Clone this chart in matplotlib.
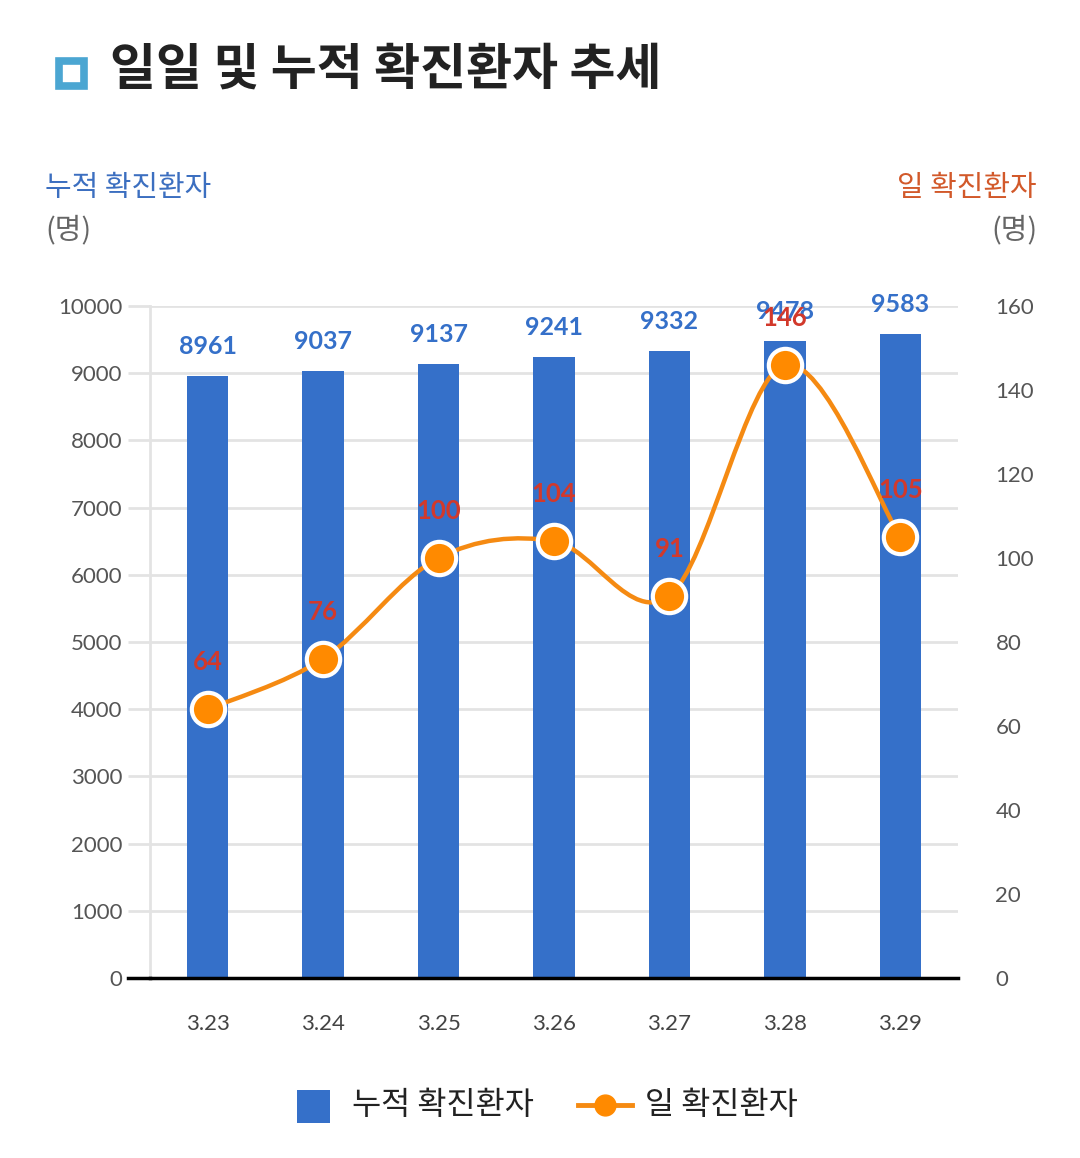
import matplotlib
matplotlib.use("Agg")
import matplotlib.pyplot as plt
from matplotlib.path import Path
from matplotlib.patches import PathPatch, Rectangle
from matplotlib.lines import Line2D
import numpy as np

dates = ["3.23", "3.24", "3.25", "3.26", "3.27", "3.28", "3.29"]
cumulative = [8961, 9037, 9137, 9241, 9332, 9478, 9583]
daily = [64, 76, 100, 104, 91, 146, 105]
left_ticks = [0, 1000, 2000, 3000, 4000, 5000, 6000, 7000, 8000, 9000, 10000]
right_ticks = [0, 20, 40, 60, 80, 100, 120, 140, 160]

KR = ["Noto Sans CJK KR", "DejaVu Sans"]
NUM = ["Lato", "DejaVu Sans"]
BLUE = "#3570C9"
ORANGE = "#F58A12"
MARK = "#FF8A00"
RED = "#D2392B"
GRID = "#E3E3E3"

W, H = 1080, 1158
fig = plt.figure(figsize=(W/100, H/100), dpi=100)
ax = fig.add_axes([150/W, 1-978/H, 808/W, 672/H])
ax2 = ax.twinx()

x = np.arange(len(dates))
ax.bar(x, cumulative, width=0.36, color=BLUE, zorder=2)
ax.set_xlim(-0.5, len(dates)-0.5)
ax.set_ylim(0, 10000)
ax2.set_ylim(0, 160)
ax.set_yticks(left_ticks)
ax.set_yticklabels([str(t) for t in left_ticks], family=NUM, fontsize=16, color="#555555")
ax2.set_yticks(right_ticks)
ax2.set_yticklabels([str(t) for t in right_ticks], family=NUM, fontsize=16, color="#555555")
ax.set_xticks(x)
ax.set_xticklabels(dates, family=NUM, fontsize=16, color="#444444")
ax.tick_params(axis="x", length=0, pad=26)
ax.tick_params(axis="y", length=16, width=2, color=GRID, pad=4)
ax2.tick_params(axis="y", length=0, pad=27)
ax.grid(axis="y", color=GRID, linewidth=2, zorder=0)
ax.set_axisbelow(True)
for a in (ax, ax2):
    for s in ["top", "right", "left"]:
        a.spines[s].set_visible(False)
ax2.spines["bottom"].set_visible(False)
ax.spines["left"].set_visible(True)
ax.spines["left"].set_color(GRID)
ax.spines["left"].set_linewidth(2)
ax.spines["bottom"].set_color("black")
ax.spines["bottom"].set_linewidth(2.5)
ax.spines["bottom"].set_zorder(5)
ax.plot([-0.5 - 22/115.4, -0.5], [0, 0], color="black", lw=2.5, clip_on=False, zorder=5)

# smooth line (Catmull-Rom -> cubic Bezier)
pts = np.column_stack([x, daily]).astype(float)
n = len(pts)
tang = np.zeros_like(pts)
for i in range(n):
    if i == 0:
        tang[i] = (pts[1] - pts[0]) * 0.5
    elif i == n - 1:
        tang[i] = (pts[-1] - pts[-2]) * 0.5
    else:
        tang[i] = (pts[i+1] - pts[i-1]) / 2
verts = [tuple(pts[0])]
codes = [Path.MOVETO]
for i in range(n - 1):
    c1 = pts[i] + tang[i] / 3
    c2 = pts[i+1] - tang[i+1] / 3
    verts += [tuple(c1), tuple(c2), tuple(pts[i+1])]
    codes += [Path.CURVE4] * 3
ax2.add_patch(PathPatch(Path(verts, codes), facecolor="none", edgecolor=ORANGE, lw=3.2, zorder=3))
ax2.plot(x, daily, linestyle="none", marker="o", markersize=24, markerfacecolor=MARK,
         markeredgecolor="white", markeredgewidth=3, zorder=4)

for xi, v in zip(x, cumulative):
    ax.annotate(str(v), (xi, v), xytext=(0, 21), textcoords="offset points",
                ha="center", va="center", family=NUM, fontsize=18, fontweight="bold", color=BLUE, zorder=6)
for xi, v in zip(x, daily):
    ax2.annotate(str(v), (xi, v), xytext=(0, 34), textcoords="offset points",
                 ha="center", va="center", family=NUM, fontsize=18.5, fontweight="bold", color=RED, zorder=6)

# title
fig.patches.append(Rectangle((59/W, 1-86/H), 25/W, 25/H, transform=fig.transFigure,
                             facecolor="white", edgecolor="#4BA6D2", linewidth=5.5))
fig.text(110/W, 1-70/H, "일일 및 누적 확진환자 추세", family=KR, fontsize=36, fontweight="bold",
         color="#222222", ha="left", va="center")

fig.text(45/W, 1-188/H, "누적 확진환자", family=KR, fontsize=20.8, color="#3C6FC0", ha="left", va="center")
fig.text(45/W, 1-230/H, "(명)", family=KR, fontsize=20.8, color="#666666", ha="left", va="center")
fig.text(1037/W, 1-188/H, "일 확진환자", family=KR, fontsize=20.8, color="#D2592A", ha="right", va="center")
fig.text(1037/W, 1-230/H, "(명)", family=KR, fontsize=20.8, color="#666666", ha="right", va="center")

# legend (manual)
ly = 1 - 1105/H
fig.patches.append(Rectangle((297/W, 1-1123/H), 33/W, 33/H, transform=fig.transFigure,
                             facecolor=BLUE, edgecolor="none"))
fig.text(352/W, ly, "누적 확진환자", family=KR, fontsize=22.8, color="#222222", ha="left", va="center")
fig.lines.append(Line2D([578/W, 593/W], [ly, ly], transform=fig.transFigure, color=ORANGE, lw=3.5))
fig.lines.append(Line2D([617/W, 632/W], [ly, ly], transform=fig.transFigure, color=ORANGE, lw=3.5))
fig.lines.append(Line2D([605/W], [ly], transform=fig.transFigure, marker="o", markersize=15,
                        markerfacecolor=MARK, markeredgecolor=MARK, linestyle="none"))
fig.text(645/W, ly, "일 확진환자", family=KR, fontsize=22.8, color="#222222", ha="left", va="center")

fig.savefig("out.png", dpi=100, facecolor="white")
